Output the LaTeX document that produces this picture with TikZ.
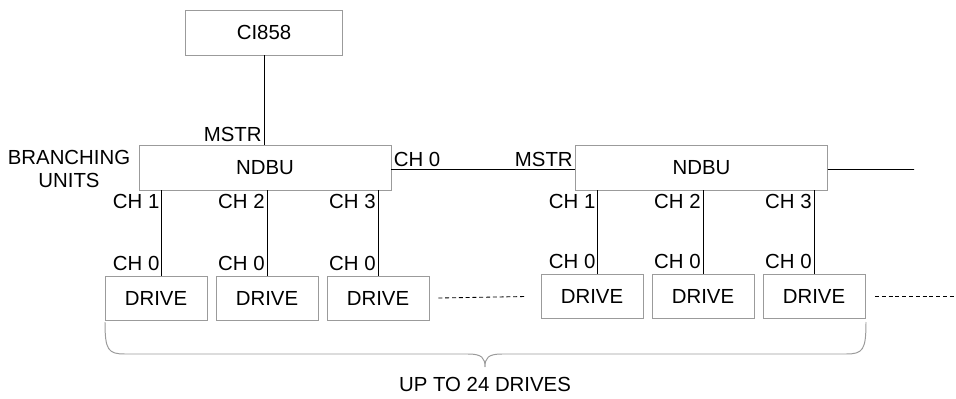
\documentclass[tikz,border=0pt]{standalone}
\usepackage{fontspec}
\setmainfont{Liberation Sans}
\usetikzlibrary{calc}
\definecolor{boxgray}{RGB}{155,155,155}

\begin{document}
\begin{tikzpicture}[x=0.25mm, y=-0.25mm,
  font=\fontsize{14.5}{16.3}\selectfont,
  unit/.style={draw=boxgray, line width=0.6pt, minimum width=63mm, minimum height=11.25mm, inner sep=0pt},
  drivebox/.style={draw=boxgray, line width=0.6pt, minimum width=25.5mm, minimum height=11mm, inner sep=0pt},
  link/.style={line width=0.65pt},
  chlabel/.style={inner sep=1.5pt},
  more/.style={line width=0.6pt, dash pattern=on 1mm off 0.7mm},
  bracepath/.style={draw=boxgray, line width=0.7pt}]
  \useasboundingbox (0,0) rectangle (956,399);

  % Controller and branching units
  \node[unit, minimum width=39.25mm] (ci) at (264,32.5) {CI858};
  \node[unit] (ndbuA) at (265,167.5) {NDBU};
  \node[unit] (ndbuB) at (701.5,167.5) {NDBU};
  \node[align=center] (branch) at (69,169) {BRANCHING\\UNITS};
  \coordinate (tail) at (914,169.5);

  \draw[link] (ci.south) -- (ci.south |- ndbuA.north);
  \node[chlabel, anchor=south east] at (ci.south |- ndbuA.north) {MSTR};
  \draw[link] ([yshift=-0.5mm]ndbuA.east) -- ([yshift=-0.5mm]ndbuB.west);
  \node[chlabel, anchor=south west] at ([yshift=-0.5mm]ndbuA.east) {CH 0};
  \node[chlabel, anchor=south east] at ([yshift=-0.5mm]ndbuB.west) {MSTR};
  \draw[link] ([yshift=-0.5mm]ndbuB.east) -- (tail);

  % Drives
  \foreach \u/\x/\y in {A/156/298, B/592/296.5}
    \foreach \i in {1,2,3}
      \node[drivebox] (drive\u\i) at ({\x+111*(\i-1)},\y) {DRIVE};

  \foreach \u in {A,B}
    \foreach \i/\dx in {1/1.45mm, 2/0mm, 3/0mm} {
      \coordinate (ch\u\i) at ([xshift=\dx]drive\u\i.north);
      \draw[link] (ch\u\i) -- (ch\u\i |- ndbu\u.south);
      \node[chlabel, anchor=east] at ([yshift=-2.75mm]ch\u\i |- ndbu\u.south) {CH \i};
      \node[chlabel, anchor=east] at ([yshift=3.1mm]ch\u\i) {CH 0};
    }

  % More drives
  \coordinate (last) at (956,296.5);
  \draw[more] ([xshift=2.25mm]driveA3.east) -- ([xshift=-3.5mm]driveB1.west);
  \draw[more] ([xshift=2.4mm]driveB3.east) -- (last);

  % Brace
  \draw[bracepath] (105,322) .. controls (105,350) and (108,354) .. (125,354) -- (468,354)
    .. controls (482,354) and (485,358) .. (485,367)
    .. controls (485,358) and (488,354) .. (502,354) -- (846,354)
    .. controls (863,354) and (866,350) .. (866,322);
  \node (total) at (485,384) {UP TO 24 DRIVES};
\end{tikzpicture}
\end{document}
